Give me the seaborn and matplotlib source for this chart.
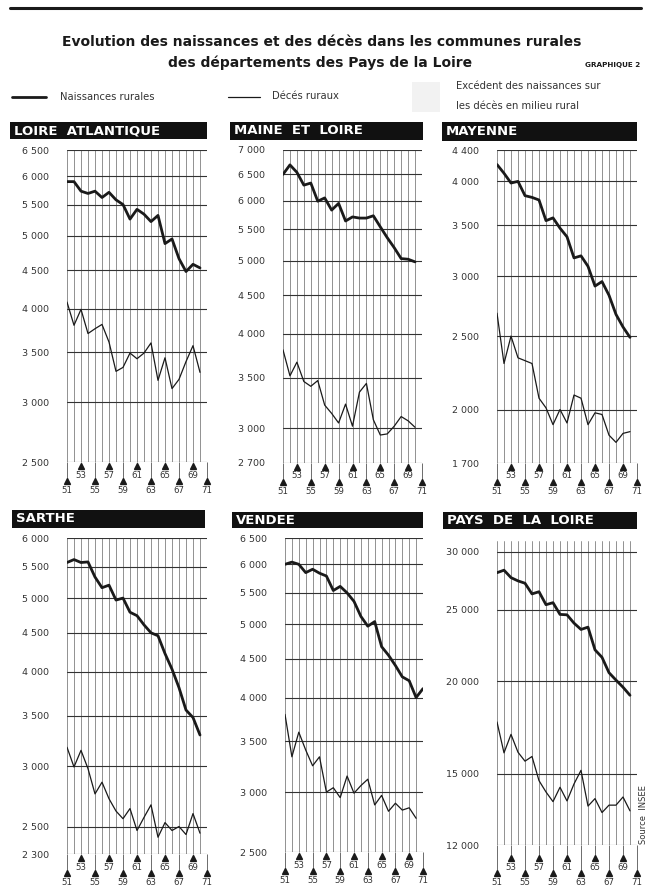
import seaborn as sns
import matplotlib.pyplot as plt
from matplotlib.patches import Rectangle
from matplotlib.ticker import FixedLocator, FixedFormatter, NullLocator

# Data (years 1951-1970 / 1971)
years = list(range(1951, 1971))
years_71 = list(range(1951, 1972))

la_births = [5900, 5900, 5730, 5690, 5730, 5620, 5710, 5580, 5500, 5260,
             5420, 5340, 5220, 5320, 4880, 4950, 4660, 4480, 4580, 4530]
la_deaths = [4080, 3800, 3990, 3705, 3760, 3810, 3610, 3300, 3340, 3490,
             3430, 3490, 3600, 3210, 3440, 3130, 3220, 3400, 3570, 3290]

ml_births = [6500, 6690, 6540, 6290, 6330, 5990, 6050, 5830, 5950, 5640,
             5710, 5690, 5690, 5730, 5540, 5360, 5200, 5030, 5020, 4980]
ml_deaths = [3810, 3520, 3670, 3460, 3410, 3470, 3220, 3140, 3050, 3230,
             3020, 3350, 3440, 3080, 2940, 2950, 3020, 3110, 3070, 3010]

my_births = [4210, 4100, 3980, 4000, 3830, 3810, 3780, 3550, 3580, 3470,
             3380, 3170, 3190, 3090, 2910, 2950, 2830, 2670, 2570, 2490]
my_deaths = [2680, 2300, 2500, 2340, 2320, 2300, 2070, 2010, 1910, 2000,
             1920, 2090, 2070, 1910, 1980, 1970, 1850, 1810, 1860, 1870]

sa_births = [5570, 5620, 5570, 5580, 5330, 5160, 5200, 4970, 5000, 4790,
             4740, 4610, 4500, 4460, 4225, 4030, 3810, 3560, 3480, 3300]
sa_deaths = [3180, 2995, 3150, 2980, 2760, 2860, 2720, 2620, 2560, 2640,
             2470, 2570, 2670, 2420, 2530, 2470, 2500, 2440, 2600, 2450]

ve_births = [6000, 6040, 6000, 5850, 5910, 5840, 5790, 5540, 5610, 5500,
             5360, 5120, 4970, 5040, 4670, 4550, 4410, 4260, 4210, 4000, 4110]
ve_deaths = [3800, 3340, 3600, 3410, 3250, 3340, 3000, 3040, 2950, 3150,
             2990, 3060, 3120, 2885, 2970, 2830, 2900, 2840, 2860, 2770]

pl_births = [28080, 28300, 27650, 27370, 27170, 26280, 26460, 25410, 25570, 24650,
             24620, 23990, 23520, 23690, 22070, 21560, 20550, 20080, 19640, 19150]
pl_deaths = [17620, 16000, 16950, 16030, 15590, 15820, 14670, 14160, 13740, 14370,
             13770, 14520, 15150, 13550, 13870, 13280, 13590, 13590, 13940, 13350]

titles = ["LOIRE  ATLANTIQUE", "MAINE  ET  LOIRE", "MAYENNE",
          "SARTHE", "VENDEE", "PAYS  DE  LA  LOIRE"]
y_ticks = [
    [2500, 3000, 3500, 4000, 4500, 5000, 5500, 6000, 6500],
    [2700, 3000, 3500, 4000, 4500, 5000, 5500, 6000, 6500, 7000],
    [1700, 2000, 2500, 3000, 3500, 4000, 4400],
    [2300, 2500, 3000, 3500, 4000, 4500, 5000, 5500, 6000],
    [2500, 3000, 3500, 4000, 4500, 5000, 5500, 6000, 6500],
    [12000, 15000, 20000, 25000, 30000],
]
y_lims = [(2500, 6500), (2700, 7000), (1700, 4400), (2300, 6000), (2500, 6500), (12000, 31000)]
births = [la_births, ml_births, my_births, sa_births, ve_births, pl_births]
deaths = [la_deaths, ml_deaths, my_deaths, sa_deaths, ve_deaths, pl_deaths]

# Layout in pixels (left, top, right, bottom)
W, H = 651, 888
axes_px = [(67, 150, 207, 462), (283, 150, 422, 463), (497, 150, 637, 463),
           (67, 538, 207, 854), (285, 538, 423, 852), (497, 541, 637, 845)]
bars_px = [(10, 122, 207, 139), (230, 122, 423, 140), (442, 122, 637, 141),
           (12, 510, 205, 528), (232, 512, 423, 528), (443, 512, 637, 529)]

sns.set_style("white")
plt.rcParams["font.family"] = ["DejaVu Sans"]
ink = "#1a1a1a"

fig = plt.figure(figsize=(W / 100, H / 100), dpi=100)


def fx(px):
    return px / W


def fy(py):
    return 1 - py / H


# Header
fig.add_artist(plt.Line2D([fx(10), fx(641)], [fy(8), fy(8)], color=ink, lw=2.2))
fig.text(fx(322), fy(42), "Evolution des naissances et des décès dans les communes rurales",
         ha="center", va="center", fontsize=10, fontweight="heavy", color=ink)
fig.text(fx(320), fy(63), "des départements des Pays de la Loire",
         ha="center", va="center", fontsize=10, fontweight="heavy", color=ink)
fig.text(fx(640), fy(65), "GRAPHIQUE 2", ha="right", va="center",
         fontsize=5.2, fontweight="bold", color=ink)

# Legend
fig.add_artist(plt.Line2D([fx(12), fx(46)], [fy(97), fy(97)], color=ink, lw=2.0))
fig.text(fx(60), fy(97), "Naissances rurales", va="center", fontsize=7.2, color="#333333")
fig.add_artist(plt.Line2D([fx(228), fx(260)], [fy(97), fy(97)], color=ink, lw=0.9))
fig.text(fx(272), fy(96), "Décés ruraux", va="center", fontsize=7.2, color="#333333")
fig.add_artist(Rectangle((fx(412), fy(112)), fx(28), 30 / H, transform=fig.transFigure,
                         facecolor="#f2f2f2", edgecolor="none"))
fig.text(fx(456), fy(86), "Excédent des naissances sur", va="center", fontsize=7.2, color="#333333")
fig.text(fx(456), fy(106), "les décès en milieu rural", va="center", fontsize=7.2, color="#333333")

upper_years = [1953, 1957, 1961, 1965, 1969]
lower_years = [1951, 1955, 1959, 1963, 1967, 1971]

for i in range(6):
    l, t, r, b = axes_px[i]
    h_px = b - t
    ax = fig.add_axes([fx(l), fy(b), fx(r - l), h_px / H])
    ax.set_yscale("log")
    ax.set_xlim(1951, 1971)
    ax.set_ylim(*y_lims[i])

    yrs_b = years_71 if len(births[i]) == 21 else years
    sns.lineplot(x=yrs_b, y=births[i], ax=ax, color=ink, lw=2.0)
    sns.lineplot(x=years, y=deaths[i], ax=ax, color=ink, lw=0.9)

    ax.yaxis.set_major_locator(FixedLocator(y_ticks[i]))
    ax.yaxis.set_major_formatter(FixedFormatter([f"{v:,}".replace(",", " ") for v in y_ticks[i]]))
    ax.yaxis.set_minor_locator(NullLocator())
    ax.set_xticks(years_71)
    ax.tick_params(axis="x", length=0, labelbottom=False)
    ax.tick_params(axis="y", length=0, pad=13, labelsize=6.8, colors="#333333")
    ax.grid(axis="x", color="#808080", lw=0.6)
    ax.grid(axis="y", color="#333333", lw=0.8)
    ax.set_axisbelow(True)
    for s in ax.spines.values():
        s.set_visible(False)
    ax.set_xlabel("")
    ax.set_ylabel("")

    # year markers below the grid
    tr = ax.get_xaxis_transform()
    base = 854 - b if i == 5 else 0
    up_tri, up_lab = -(4 + base) / h_px, -(13 + base) / h_px
    lo_tri, lo_lab = -(19 + base) / h_px, -(28 + base) / h_px
    ax.vlines(upper_years, up_tri, 0, transform=tr, color="#555555", lw=0.6, clip_on=False)
    ax.vlines(lower_years, lo_tri, 0, transform=tr, color="#555555", lw=0.6, clip_on=False)
    ax.plot(upper_years, [up_tri] * len(upper_years), transform=tr, ls="none",
            marker="^", ms=4, color=ink, clip_on=False)
    ax.plot(lower_years, [lo_tri] * len(lower_years), transform=tr, ls="none",
            marker="^", ms=4, color=ink, clip_on=False)
    for yv in upper_years:
        ax.text(yv, up_lab, str(yv)[2:], transform=tr, ha="center", va="center",
                fontsize=6.2, color="#333333")
    for yv in lower_years:
        ax.text(yv, lo_lab, str(yv)[2:], transform=tr, ha="center", va="center",
                fontsize=6.2, color="#333333")

    # black title bar
    bl, bt, br, bb = bars_px[i]
    fig.add_artist(Rectangle((fx(bl), fy(bb)), fx(br - bl), (bb - bt) / H,
                             transform=fig.transFigure, facecolor="#111111", edgecolor="none"))
    fig.text(fx(bl + 4), fy((bt + bb) / 2), titles[i], ha="left", va="center",
             fontsize=9.5, fontweight="bold", color="white")

fig.text(fx(643), fy(815), "Source  INSEE", rotation=90, ha="center", va="center",
         fontsize=6, color="#333333")

fig.savefig("out.png", dpi=100)
